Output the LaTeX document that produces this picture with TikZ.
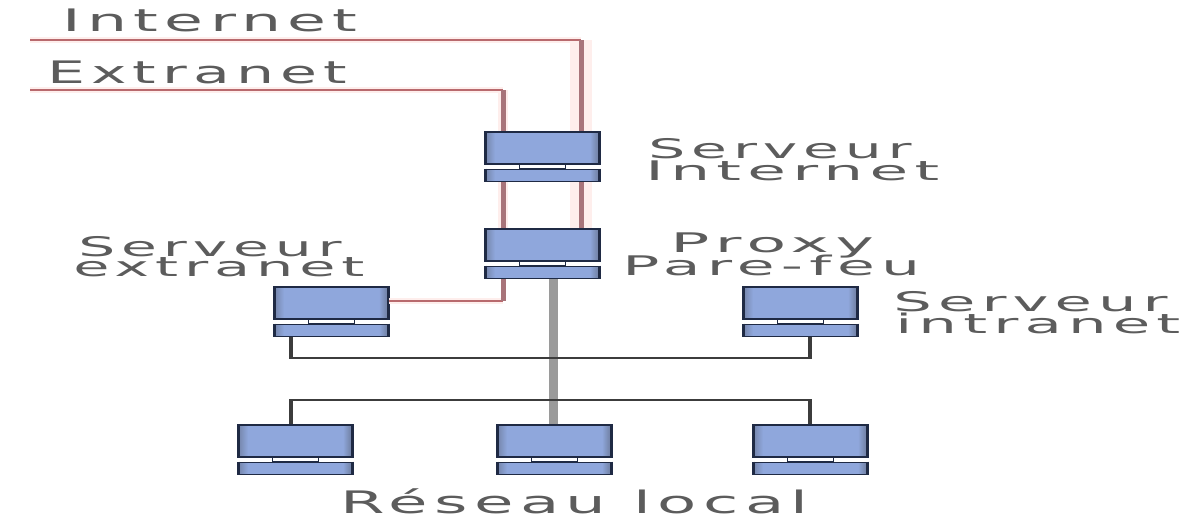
\documentclass[tikz,border=0pt]{standalone}
\usepackage{xcolor}
\usepackage{fontspec}
\setmainfont{DejaVu Sans}
\newfontfamily\labelfont[LetterSpace=10]{DejaVu Sans}
\usetikzlibrary{positioning,calc}
\definecolor{ink}{HTML}{1f2a44}
\definecolor{wire}{HTML}{3c3c3c}
\definecolor{trunk}{HTML}{9a9a9a}
\definecolor{redline}{HTML}{b86a6e}
\definecolor{redpost}{HTML}{a8747a}
\definecolor{halo}{HTML}{feeeec}
\definecolor{face}{HTML}{8fa7dc}
\definecolor{faceside}{HTML}{7687ad}
\definecolor{legend}{HTML}{5c5c5c}

\pgfdeclarehorizontalshading{serverface}{100bp}{
  color(0bp)=(faceside); color(25bp)=(faceside); color(29bp)=(face);
  color(71bp)=(face); color(74bp)=(faceside); color(100bp)=(faceside)}

\tikzset{
  body/.style={draw=ink,line width=1.8pt,minimum width=113pt,minimum height=32pt,inner sep=0pt,
    anchor=north west,shading=serverface},
  base/.style={body,minimum height=12pt},
  link/.style={draw=ink,line width=1.2pt,fill=white,minimum width=46pt,minimum height=4pt,inner sep=0pt},
  edge bar/.style={draw=ink,line width=3pt},
  biglabel/.style={anchor=base west,inner sep=0pt,text=legend,font=\labelfont\fontsize{31}{31}\selectfont},
  smalllabel/.style={anchor=base west,inner sep=0pt,text=legend,font=\labelfont\fontsize{27}{27}\selectfont}
}

% one machine: body, base and the short link between them
\newcommand{\serverbox}[3]{
  \node[body] (#1) at (#2,#3) {};
  \node[base] (#1-b) at (#2,#3+37.5) {};
  \node[link] (#1-l) at ($(#1.south)!0.5!(#1-b.north)$) {};
  \draw[edge bar] (#1.north west) -- (#1.south west) (#1.north east) -- (#1.south east);
  \draw[edge bar] (#1-b.north west) -- (#1-b.south west) (#1-b.north east) -- (#1-b.south east);
}

\begin{document}
\begin{tikzpicture}[x=1pt,y=-1pt]

  \useasboundingbox (0,0) rectangle (1189,520);

  % ---------------------------------------------------------------- MACHINES
  \serverbox{srvinternet}{485}{131}
  \serverbox{proxy}{485}{228}
  \serverbox{srvextranet}{274}{286}
  \serverbox{srvintranet}{743}{286}
  \serverbox{posta}{238}{424}
  \serverbox{postb}{497}{424}
  \serverbox{postc}{753}{424}

  % ---------------------------------------------------------------- RED LINES
  \coordinate (inetstart) at (30,40);
  \coordinate (inetbend) at (581,40);
  \coordinate (extrastart) at (30,90);
  \coordinate (extrabend) at (503,90);
  \coordinate (extrafoot) at (503,301);

  % pale glow first, so that the lines sit on it
  \draw[halo,line width=22pt] (inetbend) -- (srvinternet.north -| inetbend);
  \draw[halo,line width=22pt] (srvinternet-b.south -| inetbend) -- (proxy.north -| inetbend);
  \draw[halo,line width=10pt] (extrabend) -- (srvinternet.north -| extrabend);
  \draw[halo,line width=10pt] (srvinternet-b.south -| extrabend) -- (proxy.north -| extrabend);
  \draw[halo,line width=6pt] (inetstart) -- (inetbend);
  \draw[halo,line width=6pt] (extrastart) -- (extrabend);
  \draw[halo,line width=6pt] (srvextranet.east |- extrafoot) -- (extrafoot);

  \draw[redline,line width=2.2pt] (inetstart) -- (inetbend);
  \draw[redline,line width=2.2pt] (extrastart) -- (extrabend);
  \draw[redline,line width=2.2pt] (srvextranet.east |- extrafoot) -- (extrafoot);
  \draw[redpost,line width=5pt] (inetbend) -- (srvinternet.north -| inetbend);
  \draw[redpost,line width=5pt] (srvinternet-b.south -| inetbend) -- (proxy.north -| inetbend);
  \draw[redpost,line width=5pt] (extrabend) -- (srvinternet.north -| extrabend);
  \draw[redpost,line width=5pt] (srvinternet-b.south -| extrabend) -- (proxy.north -| extrabend);
  \draw[redpost,line width=5pt] (proxy-b.south -| extrabend) -- (extrafoot);

  % ---------------------------------------------------------------- LOCAL NETWORK
  \coordinate (busup) at (553,358);
  \coordinate (busdown) at (553,400);
  \draw[trunk,line width=9pt] (proxy-b.south -| busup) -- (postb.north -| busup);
  \draw[wire,line width=2.5pt] (291,358) -- (810,358);
  \draw[wire,line width=2.5pt] (291,400) -- (810,400);
  \draw[wire,line width=4pt] (srvextranet-b.south -| 291,0) -- (291,359);
  \draw[wire,line width=4pt] (srvintranet-b.south -| 810,0) -- (810,359);
  \draw[wire,line width=4pt] (291,399) -- (posta.north -| 291,0);
  \draw[wire,line width=4pt] (810,399) -- (postc.north -| 810,0);

  % ---------------------------------------------------------------- LABELS
  \node[biglabel,xscale=2.04] (tinternet) at (62,31) {Internet};
  \node[biglabel,xscale=1.94] (textranet) at (47,83) {Extranet};
  \node[smalllabel,xscale=2.16] (tsrva) at (648,158) {Serveur};
  \node[smalllabel,xscale=2.33] (tsrvb) at (645,180) {Internet};
  \node[smalllabel,xscale=2.4] (tproxy) at (670,252) {Proxy};
  \node[smalllabel,xscale=2.28] (tpare) at (622,275) {Pare-feu};
  \node[smalllabel,xscale=2.16] (textra) at (78,256) {Serveur};
  \node[smalllabel,xscale=2.18] (textrb) at (73,276) {extranet};
  \node[smalllabel,xscale=2.25] (tintra) at (893,311) {Serveur};
  \node[smalllabel,xscale=2.26] (tintrb) at (895,333) {intranet};
  \node[biglabel,xscale=2.07] (tlocal) at (340,513) {Réseau local};

\end{tikzpicture}
\end{document}
